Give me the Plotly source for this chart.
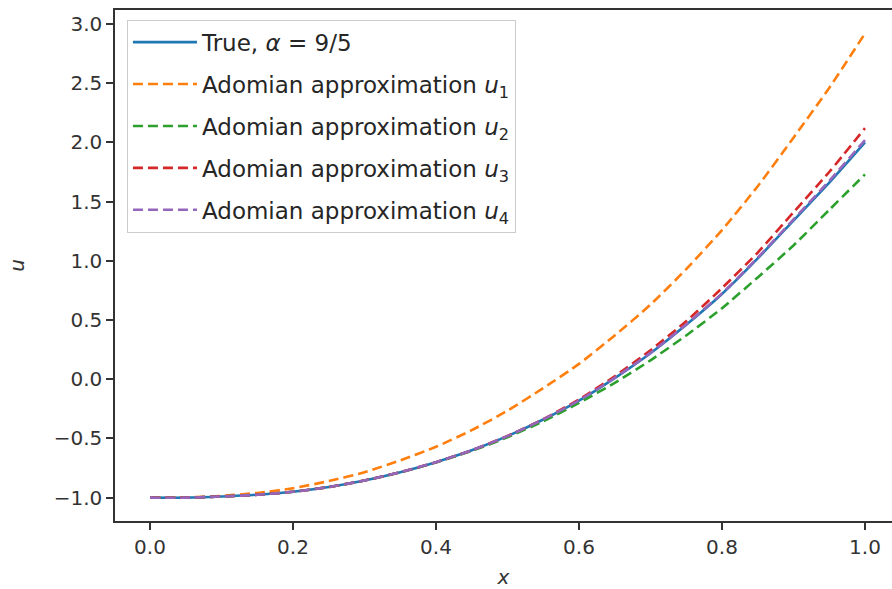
import plotly.graph_objects as go

x_vals = [0.0, 0.05, 0.1, 0.15, 0.2, 0.25, 0.3, 0.35, 0.4, 0.45, 0.5,
          0.55, 0.6, 0.65, 0.7, 0.75, 0.8, 0.85, 0.9, 0.95, 1.0]

u_true = [-1.0, -1.0, -0.99, -0.975, -0.95, -0.91, -0.855, -0.785, -0.70, -0.60, -0.48,
          -0.34, -0.18, 0.01, 0.22, 0.46, 0.72, 1.02, 1.34, 1.66, 2.0]
u1 = [-1.0, -0.997, -0.985, -0.96, -0.92, -0.86, -0.785, -0.685, -0.57, -0.43, -0.265,
      -0.075, 0.13, 0.37, 0.63, 0.93, 1.26, 1.63, 2.04, 2.46, 2.92]
u2 = [-1.0, -1.0, -0.99, -0.975, -0.95, -0.91, -0.855, -0.786, -0.702, -0.605, -0.49,
      -0.355, -0.20, -0.03, 0.16, 0.37, 0.60, 0.86, 1.13, 1.43, 1.73]
u3 = [-1.0, -1.0, -0.99, -0.975, -0.95, -0.91, -0.855, -0.785, -0.70, -0.60, -0.479,
      -0.337, -0.17, 0.025, 0.245, 0.49, 0.77, 1.07, 1.41, 1.75, 2.12]
u4 = [-1.0, -1.0, -0.99, -0.975, -0.95, -0.91, -0.855, -0.785, -0.70, -0.60, -0.48,
      -0.34, -0.179, 0.012, 0.223, 0.463, 0.725, 1.027, 1.35, 1.675, 2.02]

names = ["True, <i>α</i> = 9/5",
         "Adomian approximation <i>u</i><sub>1</sub>",
         "Adomian approximation <i>u</i><sub>2</sub>",
         "Adomian approximation <i>u</i><sub>3</sub>",
         "Adomian approximation <i>u</i><sub>4</sub>"]
series = [u_true, u1, u2, u3, u4]
colors = ["#1f77b4", "#ff7f0e", "#2ca02c", "#d62728", "#9467bd"]
dashes = ["solid", "10px,5px", "10px,5px", "10px,5px", "10px,5px"]

x_ticks = [0.0, 0.2, 0.4, 0.6, 0.8, 1.0]
x_ticktext = ["0.0", "0.2", "0.4", "0.6", "0.8", "1.0"]
y_ticks = [-1.0, -0.5, 0.0, 0.5, 1.0, 1.5, 2.0, 2.5, 3.0]
y_ticktext = ["−1.0", "−0.5", "0.0", "0.5", "1.0", "1.5", "2.0", "2.5", "3.0"]

fig = go.Figure()
for i, (nm, ys, c, d) in enumerate(zip(names, series, colors, dashes)):
    fig.add_trace(go.Scatter(
        x=x_vals, y=ys, mode="lines", name=nm,
        line=dict(color=c, width=2.6, dash=d, shape="spline", smoothing=0.6),
        legendgroup=f"g{i}",
    ))

font_family = "DejaVu Sans"
fig.update_layout(
    width=892, height=589,
    margin=dict(l=115, r=0, t=10, b=68),
    paper_bgcolor="white", plot_bgcolor="white",
    font=dict(family=font_family, size=20, color="#333333"),
    showlegend=True,
    legend=dict(
        x=0.0154, y=0.981, xanchor="left", yanchor="top",
        bgcolor="rgba(255,255,255,0.85)", bordercolor="#cccccc", borderwidth=1,
        font=dict(family=font_family, size=23, color="#262626"),
        tracegroupgap=9,
        itemwidth=64,
    ),
    xaxis=dict(
        range=[-0.049, 1.0378],
        tickvals=x_ticks, ticktext=x_ticktext,
        tickfont=dict(size=20),
        showgrid=False, zeroline=False,
        showline=True, linecolor="#333333", linewidth=1.5, mirror=True,
        ticks="outside", ticklen=7, tickwidth=1.5, tickcolor="#333333",
        title=dict(text="<i>x</i>", font=dict(size=20), standoff=14),
    ),
    yaxis=dict(
        range=[-1.197, 3.118],
        tickvals=y_ticks, ticktext=y_ticktext,
        tickfont=dict(size=20),
        showgrid=False, zeroline=False,
        showline=True, linecolor="#333333", linewidth=1.5, mirror=False,
        ticks="outside", ticklen=7, tickwidth=1.5, tickcolor="#333333",
        title=dict(text="<i>u</i>", font=dict(size=20), standoff=24),
    ),
)

fig.write_html("out.html")
